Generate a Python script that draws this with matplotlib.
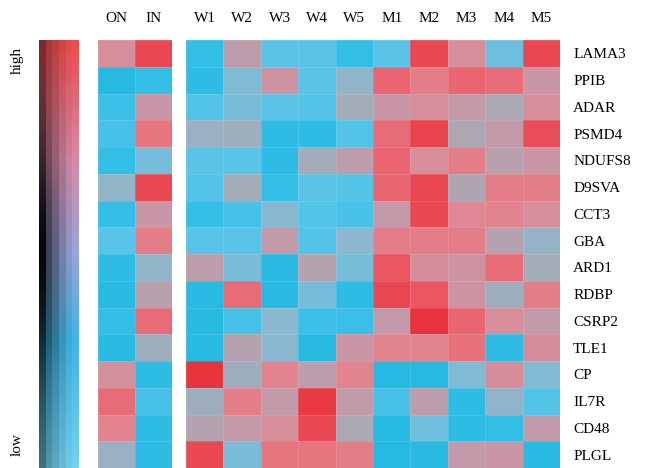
import numpy as np
import matplotlib
matplotlib.use("Agg")
import matplotlib.pyplot as plt
from matplotlib.colors import LinearSegmentedColormap

# genes (rows, top to bottom) and sample groups (columns)
genes = ["LAMA3", "PPIB", "ADAR", "PSMD4", "NDUFS8", "D9SVA", "CCT3", "GBA",
         "ARD1", "RDBP", "CSRP2", "TLE1", "CP", "IL7R", "CD48", "PLGL"]
ref_cols = ["ON", "IN"]
grp_cols = ["W1", "W2", "W3", "W4", "W5", "M1", "M2", "M3", "M4", "M5"]

# relative expression, 0 = low, 1 = high (read by eye)
ref_vals = [
    [0.65, 0.90],
    [0.05, 0.10],
    [0.12, 0.60],
    [0.15, 0.75],
    [0.10, 0.27],
    [0.35, 0.90],
    [0.10, 0.60],
    [0.20, 0.72],
    [0.08, 0.35],
    [0.06, 0.52],
    [0.10, 0.78],
    [0.06, 0.40],
    [0.64, 0.08],
    [0.78, 0.15],
    [0.70, 0.08],
    [0.38, 0.08],
]
grp_vals = [
    [0.10, 0.55, 0.20, 0.20, 0.10, 0.20, 0.90, 0.65, 0.25, 0.90],
    [0.08, 0.30, 0.62, 0.20, 0.35, 0.80, 0.72, 0.80, 0.78, 0.60],
    [0.18, 0.28, 0.20, 0.18, 0.42, 0.60, 0.65, 0.58, 0.45, 0.65],
    [0.38, 0.40, 0.08, 0.08, 0.18, 0.78, 0.92, 0.47, 0.58, 0.88],
    [0.20, 0.20, 0.08, 0.42, 0.55, 0.80, 0.65, 0.72, 0.52, 0.60],
    [0.18, 0.42, 0.10, 0.20, 0.18, 0.80, 0.90, 0.48, 0.72, 0.72],
    [0.10, 0.15, 0.32, 0.18, 0.15, 0.58, 0.90, 0.68, 0.70, 0.65],
    [0.20, 0.20, 0.57, 0.18, 0.33, 0.72, 0.72, 0.72, 0.50, 0.36],
    [0.55, 0.28, 0.06, 0.50, 0.27, 0.85, 0.66, 0.62, 0.78, 0.42],
    [0.06, 0.78, 0.06, 0.27, 0.08, 0.90, 0.85, 0.62, 0.40, 0.72],
    [0.06, 0.15, 0.32, 0.12, 0.12, 0.58, 0.98, 0.80, 0.65, 0.58],
    [0.06, 0.50, 0.32, 0.06, 0.60, 0.70, 0.70, 0.76, 0.08, 0.66],
    [0.97, 0.40, 0.70, 0.55, 0.70, 0.05, 0.05, 0.30, 0.66, 0.30],
    [0.40, 0.72, 0.58, 0.95, 0.58, 0.15, 0.55, 0.08, 0.35, 0.18],
    [0.50, 0.58, 0.65, 0.90, 0.45, 0.05, 0.25, 0.08, 0.10, 0.58],
    [0.90, 0.28, 0.75, 0.75, 0.72, 0.05, 0.06, 0.58, 0.60, 0.06],
]

cell_cmap = LinearSegmentedColormap.from_list("expr", [
    (0.00, "#1ab4dc"), (0.10, "#34bee6"), (0.20, "#5ac4e8"), (0.32, "#8ab8d0"),
    (0.45, "#aaa8b2"), (0.58, "#c39aa9"), (0.70, "#e28590"), (0.82, "#ea606a"),
    (1.00, "#e82c36")])
bar_cmap = LinearSegmentedColormap.from_list("bar", [
    (0.00, "#72d2f0"), (0.30, "#40b4e6"), (0.50, "#98a4dc"),
    (0.72, "#d88aa8"), (1.00, "#ec4c4c")])

plt.rcParams["font.family"] = ["Liberation Serif", "DejaVu Serif"]
fig = plt.figure(figsize=(6.48, 4.68), dpi=100)
W, H = 648, 468


def px_axes(x0, x1, y0, y1):
    return fig.add_axes([x0 / W, 1 - y1 / H, (x1 - x0) / W, (y1 - y0) / H])


def heat(ax, vals, cols):
    data = np.array(vals)
    ax.pcolormesh(data, cmap=cell_cmap, vmin=0, vmax=1,
                  edgecolors=(1, 1, 1, 0.12), linewidth=0.4)
    ax.set_ylim(len(genes), 0)
    ax.set_xlim(0, len(cols))
    ax.xaxis.tick_top()
    ax.set_xticks(np.arange(len(cols)) + 0.5, cols)
    ax.tick_params(axis="x", length=0, pad=11, labelsize=11)
    for s in ax.spines.values():
        s.set_visible(False)


ax_ref = px_axes(98, 172, 40, 468)
heat(ax_ref, ref_vals, ref_cols)
ax_ref.set_yticks([])

ax_grp = px_axes(186, 560, 40, 468)
heat(ax_grp, grp_vals, grp_cols)
ax_grp.yaxis.tick_right()
ax_grp.set_yticks(np.arange(len(genes)) + 0.5, genes)
ax_grp.tick_params(axis="y", length=0, pad=9.5, labelsize=11)

# colour key: several stripes, darker towards the left and the middle
ax_bar = px_axes(39, 79, 40, 468)
n = 300
v = np.linspace(1, 0, n)
shade = [0.95, 0.6, 0.4, 0.22, 0.08, 0.0]
bump = np.exp(-((v - 0.5) / 0.3) ** 2)
img = np.zeros((n, len(shade), 3))
for i, k in enumerate(shade):
    base = bar_cmap(v)[:, :3]
    f = (1 - k * (0.45 + 0.55 * bump))[:, None]
    img[:, i, :] = base * f
ax_bar.imshow(img, aspect="auto", interpolation="nearest")
ax_bar.set_axis_off()

fig.text(17 / W, 1 - 60 / H, "high", rotation=90, ha="center", va="center", fontsize=11)
fig.text(17 / W, 1 - 445 / H, "low", rotation=90, ha="center", va="center", fontsize=11)

fig.savefig("out.png", dpi=100)
